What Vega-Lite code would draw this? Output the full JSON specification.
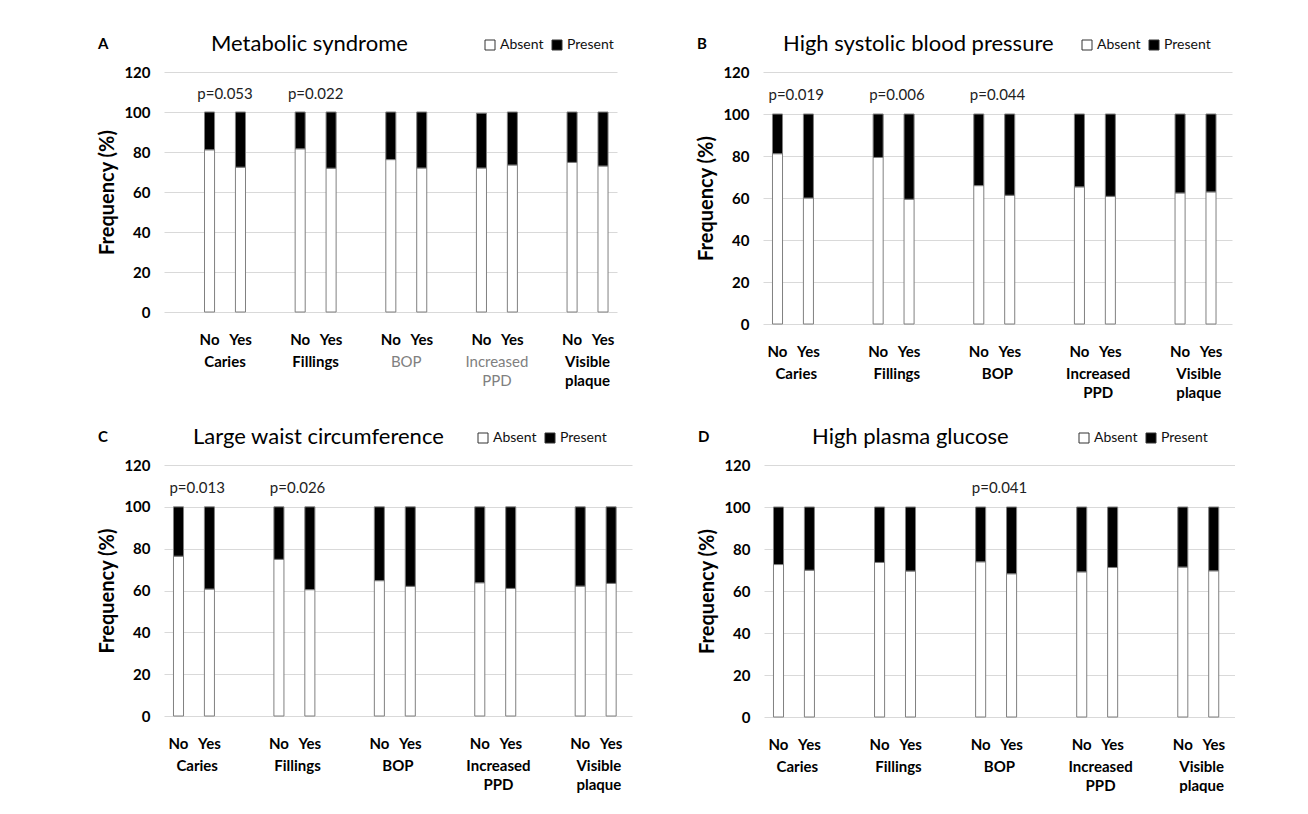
{
  "$schema": "https://vega.github.io/schema/vega-lite/v6.json",
  "padding": {"left": 97, "top": 33, "right": 0, "bottom": 0},
  "background": "#ffffff",
  "datasets": {
    "freq": [
      {"panel": "A", "group": "Caries", "answer": "No", "Absent": 81.1, "Present": 18.9},
      {"panel": "A", "group": "Caries", "answer": "Yes", "Absent": 72.4, "Present": 27.6},
      {"panel": "A", "group": "Fillings", "answer": "No", "Absent": 81.6, "Present": 18.4},
      {"panel": "A", "group": "Fillings", "answer": "Yes", "Absent": 71.9, "Present": 28.1},
      {"panel": "A", "group": "BOP", "answer": "No", "Absent": 76.2, "Present": 23.8},
      {"panel": "A", "group": "BOP", "answer": "Yes", "Absent": 72.0, "Present": 28.0},
      {"panel": "A", "group": "Increased PPD", "answer": "No", "Absent": 72.0, "Present": 27.4},
      {"panel": "A", "group": "Increased PPD", "answer": "Yes", "Absent": 73.5, "Present": 26.5},
      {"panel": "A", "group": "Visible plaque", "answer": "No", "Absent": 74.8, "Present": 25.2},
      {"panel": "A", "group": "Visible plaque", "answer": "Yes", "Absent": 73.0, "Present": 27.0},
      {"panel": "B", "group": "Caries", "answer": "No", "Absent": 81.1, "Present": 18.9},
      {"panel": "B", "group": "Caries", "answer": "Yes", "Absent": 60.0, "Present": 40.0},
      {"panel": "B", "group": "Fillings", "answer": "No", "Absent": 79.3, "Present": 20.7},
      {"panel": "B", "group": "Fillings", "answer": "Yes", "Absent": 59.4, "Present": 40.6},
      {"panel": "B", "group": "BOP", "answer": "No", "Absent": 65.9, "Present": 34.1},
      {"panel": "B", "group": "BOP", "answer": "Yes", "Absent": 61.3, "Present": 38.7},
      {"panel": "B", "group": "Increased PPD", "answer": "No", "Absent": 65.3, "Present": 34.7},
      {"panel": "B", "group": "Increased PPD", "answer": "Yes", "Absent": 60.8, "Present": 39.2},
      {"panel": "B", "group": "Visible plaque", "answer": "No", "Absent": 62.4, "Present": 37.6},
      {"panel": "B", "group": "Visible plaque", "answer": "Yes", "Absent": 62.9, "Present": 37.1},
      {"panel": "C", "group": "Caries", "answer": "No", "Absent": 76.4, "Present": 23.6},
      {"panel": "C", "group": "Caries", "answer": "Yes", "Absent": 60.7, "Present": 39.3},
      {"panel": "C", "group": "Fillings", "answer": "No", "Absent": 74.9, "Present": 25.1},
      {"panel": "C", "group": "Fillings", "answer": "Yes", "Absent": 60.4, "Present": 39.6},
      {"panel": "C", "group": "BOP", "answer": "No", "Absent": 64.7, "Present": 35.3},
      {"panel": "C", "group": "BOP", "answer": "Yes", "Absent": 62.0, "Present": 38.0},
      {"panel": "C", "group": "Increased PPD", "answer": "No", "Absent": 63.7, "Present": 36.3},
      {"panel": "C", "group": "Increased PPD", "answer": "Yes", "Absent": 61.0, "Present": 39.0},
      {"panel": "C", "group": "Visible plaque", "answer": "No", "Absent": 62.1, "Present": 37.9},
      {"panel": "C", "group": "Visible plaque", "answer": "Yes", "Absent": 63.4, "Present": 36.6},
      {"panel": "D", "group": "Caries", "answer": "No", "Absent": 72.6, "Present": 27.4},
      {"panel": "D", "group": "Caries", "answer": "Yes", "Absent": 69.9, "Present": 30.1},
      {"panel": "D", "group": "Fillings", "answer": "No", "Absent": 73.6, "Present": 26.4},
      {"panel": "D", "group": "Fillings", "answer": "Yes", "Absent": 69.5, "Present": 30.5},
      {"panel": "D", "group": "BOP", "answer": "No", "Absent": 73.9, "Present": 26.1},
      {"panel": "D", "group": "BOP", "answer": "Yes", "Absent": 68.2, "Present": 31.8},
      {"panel": "D", "group": "Increased PPD", "answer": "No", "Absent": 69.1, "Present": 30.9},
      {"panel": "D", "group": "Increased PPD", "answer": "Yes", "Absent": 71.2, "Present": 28.8},
      {"panel": "D", "group": "Visible plaque", "answer": "No", "Absent": 71.4, "Present": 28.6},
      {"panel": "D", "group": "Visible plaque", "answer": "Yes", "Absent": 69.6, "Present": 30.4}
    ],
    "pvals": [
      {"panel": "A", "group": "Caries", "p": "p=0.053"},
      {"panel": "A", "group": "Fillings", "p": "p=0.022"},
      {"panel": "B", "group": "Caries", "p": "p=0.019"},
      {"panel": "B", "group": "Fillings", "p": "p=0.006"},
      {"panel": "B", "group": "BOP", "p": "p=0.044"},
      {"panel": "C", "group": "Caries", "p": "p=0.013"},
      {"panel": "C", "group": "Fillings", "p": "p=0.026"},
      {"panel": "D", "group": "BOP", "p": "p=0.041"}
    ]
  },
  "config": {
    "font": "Lato",
    "view": {"stroke": null},
    "axis": {"labelFont": "Lato", "labelFontWeight": "bold", "labelFontSize": 15, "labelColor": "#000000", "titleFont": "Lato", "titleFontSize": 20, "titleFontWeight": "bold", "titleColor": "#000000"},
    "axisY": {"grid": true, "gridColor": "#d9d9d9", "domain": false, "ticks": false, "values": [0, 20, 40, 60, 80, 100, 120], "labelPadding": 14, "titlePadding": 6},
    "axisX": {"grid": false, "domain": false, "ticks": false, "title": null, "labelAngle": 0, "labelPadding": 42, "labelLineHeight": 19, "labelBaseline": "top", "labelFontSize": 15},
    "legend": {"orient": "none", "direction": "horizontal", "title": null, "symbolType": "square", "symbolSize": 100, "symbolStrokeColor": "#333333", "symbolStrokeWidth": 1, "labelFont": "Lato", "labelFontSize": 14, "labelColor": "#111111", "columnPadding": 6, "labelOffset": 3, "legendY": -34}
  },
  "resolve": {"scale": {"color": "independent"}, "legend": {"color": "independent"}},
  "spacing": 26,
  "vconcat": [
    {
      "resolve": {"scale": {"color": "independent"}, "legend": {"color": "independent"}},
      "spacing": 79,
      "hconcat": [
        {
          "title": {"text": "A", "anchor": "start", "fontSize": 15, "fontWeight": "bold", "offset": -19, "color": "#000000"},
          "resolve": {"scale": {"color": "independent"}, "legend": {"color": "independent"}},
          "vconcat": [
            {
              "title": {"text": "Metabolic syndrome", "anchor": "start", "frame": "group", "dx": 47, "fontSize": 22, "fontWeight": "normal", "offset": -18, "color": "#000000"},
              "width": 453,
              "height": 240,
              "layer": [
                {
                  "data": {"name": "freq"},
                  "transform": [{"filter": "datum.panel == 'A'"}, {"fold": ["Absent", "Present"], "as": ["status", "value"]}],
                  "mark": {"type": "bar", "stroke": "#808080", "strokeWidth": 1},
                  "encoding": {
                    "x": {"field": "group", "type": "nominal", "scale": {"domain": ["Caries", "Fillings", "BOP", "Increased PPD", "Visible plaque"], "paddingInner": 0.35, "paddingOuter": 0.174, "align": 1},
                      "axis": {"labelExpr": "datum.value == 'Increased PPD' ? ['Increased', 'PPD'] : datum.value == 'Visible plaque' ? ['Visible', 'plaque'] : datum.label",
                        "labelColor": {"condition": {"test": "datum.value == 'BOP' || datum.value == 'Increased PPD'", "value": "#808080"}, "value": "#000000"},
                        "labelFontWeight": {"condition": {"test": "datum.value == 'BOP' || datum.value == 'Increased PPD'", "value": "normal"}, "value": "bold"}}},
                    "xOffset": {"field": "answer", "type": "nominal", "scale": {"domain": ["No", "Yes"], "paddingInner": 0.675, "paddingOuter": 0.29}},
                    "y": {"field": "value", "type": "quantitative", "stack": "zero", "scale": {"domain": [0, 120]}, "title": "Frequency (%)"},
                    "color": {"field": "status", "type": "nominal", "scale": {"domain": ["Absent", "Present"], "range": ["#ffffff", "#000000"]}, "legend": {"legendX": 319}},
                    "order": {"field": "status", "sort": "ascending"}
                  }
                },
                {
                  "data": {"name": "freq"},
                  "transform": [{"filter": "datum.panel == 'A'"}],
                  "mark": {"type": "text", "baseline": "top", "dy": 21, "fontSize": 15, "fontWeight": "bold", "color": "#000000"},
                  "encoding": {
                    "x": {"field": "group", "type": "nominal"},
                    "xOffset": {"field": "answer", "type": "nominal"},
                    "y": {"datum": 0},
                    "text": {"field": "answer"}
                  }
                },
                {
                  "data": {"name": "pvals"},
                  "transform": [{"filter": "datum.panel == 'A'"}],
                  "mark": {"type": "text", "baseline": "middle", "fontSize": 15, "color": "#222222"},
                  "encoding": {
                    "x": {"field": "group", "type": "nominal"},
                    "y": {"datum": 109},
                    "text": {"field": "p"}
                  }
                }
              ]
            }
          ]
        },
        {
          "title": {"text": "B", "anchor": "start", "fontSize": 15, "fontWeight": "bold", "offset": -19, "color": "#000000"},
          "resolve": {"scale": {"color": "independent"}, "legend": {"color": "independent"}},
          "vconcat": [
            {
              "title": {"text": "High systolic blood pressure", "anchor": "start", "frame": "group", "dx": 20, "fontSize": 22, "fontWeight": "normal", "offset": -18, "color": "#000000"},
              "width": 469,
              "height": 252,
              "layer": [
                {
                  "data": {"name": "freq"},
                  "transform": [{"filter": "datum.panel == 'B'"}, {"fold": ["Absent", "Present"], "as": ["status", "value"]}],
                  "mark": {"type": "bar", "stroke": "#808080", "strokeWidth": 1},
                  "encoding": {
                    "x": {"field": "group", "type": "nominal", "scale": {"domain": ["Caries", "Fillings", "BOP", "Increased PPD", "Visible plaque"], "paddingInner": 0.35, "paddingOuter": 0.005},
                      "axis": {"labelExpr": "datum.value == 'Increased PPD' ? ['Increased', 'PPD'] : datum.value == 'Visible plaque' ? ['Visible', 'plaque'] : datum.label"}},
                    "xOffset": {"field": "answer", "type": "nominal", "scale": {"domain": ["No", "Yes"], "paddingInner": 0.687, "paddingOuter": 0.32}},
                    "y": {"field": "value", "type": "quantitative", "stack": "zero", "scale": {"domain": [0, 120]}, "title": "Frequency (%)"},
                    "color": {"field": "status", "type": "nominal", "scale": {"domain": ["Absent", "Present"], "range": ["#ffffff", "#000000"]}, "legend": {"legendX": 317}},
                    "order": {"field": "status", "sort": "ascending"}
                  }
                },
                {
                  "data": {"name": "freq"},
                  "transform": [{"filter": "datum.panel == 'B'"}],
                  "mark": {"type": "text", "baseline": "top", "dy": 21, "fontSize": 15, "fontWeight": "bold", "color": "#000000"},
                  "encoding": {
                    "x": {"field": "group", "type": "nominal"},
                    "xOffset": {"field": "answer", "type": "nominal"},
                    "y": {"datum": 0},
                    "text": {"field": "answer"}
                  }
                },
                {
                  "data": {"name": "pvals"},
                  "transform": [{"filter": "datum.panel == 'B'"}],
                  "mark": {"type": "text", "baseline": "middle", "fontSize": 15, "color": "#222222"},
                  "encoding": {
                    "x": {"field": "group", "type": "nominal"},
                    "y": {"datum": 109},
                    "text": {"field": "p"}
                  }
                }
              ]
            }
          ]
        }
      ]
    },
    {
      "resolve": {"scale": {"color": "independent"}, "legend": {"color": "independent"}},
      "spacing": 65,
      "hconcat": [
        {
          "title": {"text": "C", "anchor": "start", "fontSize": 15, "fontWeight": "bold", "offset": -19, "color": "#000000"},
          "resolve": {"scale": {"color": "independent"}, "legend": {"color": "independent"}},
          "vconcat": [
            {
              "title": {"text": "Large waist circumference", "anchor": "start", "frame": "group", "dx": 29, "fontSize": 22, "fontWeight": "normal", "offset": -18, "color": "#000000"},
              "width": 468,
              "height": 251,
              "layer": [
                {
                  "data": {"name": "freq"},
                  "transform": [{"filter": "datum.panel == 'C'"}, {"fold": ["Absent", "Present"], "as": ["status", "value"]}],
                  "mark": {"type": "bar", "stroke": "#808080", "strokeWidth": 1},
                  "encoding": {
                    "x": {"field": "group", "type": "nominal", "scale": {"domain": ["Caries", "Fillings", "BOP", "Increased PPD", "Visible plaque"], "paddingInner": 0.35, "paddingOuter": 0.005},
                      "axis": {"labelExpr": "datum.value == 'Increased PPD' ? ['Increased', 'PPD'] : datum.value == 'Visible plaque' ? ['Visible', 'plaque'] : datum.label"}},
                    "xOffset": {"field": "answer", "type": "nominal", "scale": {"domain": ["No", "Yes"], "paddingInner": 0.687, "paddingOuter": 0.32}},
                    "y": {"field": "value", "type": "quantitative", "stack": "zero", "scale": {"domain": [0, 120]}, "title": "Frequency (%)"},
                    "color": {"field": "status", "type": "nominal", "scale": {"domain": ["Absent", "Present"], "range": ["#ffffff", "#000000"]}, "legend": {"legendX": 312}},
                    "order": {"field": "status", "sort": "ascending"}
                  }
                },
                {
                  "data": {"name": "freq"},
                  "transform": [{"filter": "datum.panel == 'C'"}],
                  "mark": {"type": "text", "baseline": "top", "dy": 21, "fontSize": 15, "fontWeight": "bold", "color": "#000000"},
                  "encoding": {
                    "x": {"field": "group", "type": "nominal"},
                    "xOffset": {"field": "answer", "type": "nominal"},
                    "y": {"datum": 0},
                    "text": {"field": "answer"}
                  }
                },
                {
                  "data": {"name": "pvals"},
                  "transform": [{"filter": "datum.panel == 'C'"}],
                  "mark": {"type": "text", "baseline": "middle", "fontSize": 15, "color": "#222222"},
                  "encoding": {
                    "x": {"field": "group", "type": "nominal"},
                    "y": {"datum": 109},
                    "text": {"field": "p"}
                  }
                }
              ]
            }
          ]
        },
        {
          "title": {"text": "D", "anchor": "start", "fontSize": 15, "fontWeight": "bold", "offset": -19, "color": "#000000"},
          "resolve": {"scale": {"color": "independent"}, "legend": {"color": "independent"}},
          "vconcat": [
            {
              "title": {"text": "High plasma glucose", "anchor": "start", "frame": "group", "dx": 48, "fontSize": 22, "fontWeight": "normal", "offset": -18, "color": "#000000"},
              "width": 471,
              "height": 252,
              "layer": [
                {
                  "data": {"name": "freq"},
                  "transform": [{"filter": "datum.panel == 'D'"}, {"fold": ["Absent", "Present"], "as": ["status", "value"]}],
                  "mark": {"type": "bar", "stroke": "#808080", "strokeWidth": 1},
                  "encoding": {
                    "x": {"field": "group", "type": "nominal", "scale": {"domain": ["Caries", "Fillings", "BOP", "Increased PPD", "Visible plaque"], "paddingInner": 0.35, "paddingOuter": 0.005},
                      "axis": {"labelExpr": "datum.value == 'Increased PPD' ? ['Increased', 'PPD'] : datum.value == 'Visible plaque' ? ['Visible', 'plaque'] : datum.label"}},
                    "xOffset": {"field": "answer", "type": "nominal", "scale": {"domain": ["No", "Yes"], "paddingInner": 0.687, "paddingOuter": 0.32}},
                    "y": {"field": "value", "type": "quantitative", "stack": "zero", "scale": {"domain": [0, 120]}, "title": "Frequency (%)"},
                    "color": {"field": "status", "type": "nominal", "scale": {"domain": ["Absent", "Present"], "range": ["#ffffff", "#000000"]}, "legend": {"legendX": 313}},
                    "order": {"field": "status", "sort": "ascending"}
                  }
                },
                {
                  "data": {"name": "freq"},
                  "transform": [{"filter": "datum.panel == 'D'"}],
                  "mark": {"type": "text", "baseline": "top", "dy": 21, "fontSize": 15, "fontWeight": "bold", "color": "#000000"},
                  "encoding": {
                    "x": {"field": "group", "type": "nominal"},
                    "xOffset": {"field": "answer", "type": "nominal"},
                    "y": {"datum": 0},
                    "text": {"field": "answer"}
                  }
                },
                {
                  "data": {"name": "pvals"},
                  "transform": [{"filter": "datum.panel == 'D'"}],
                  "mark": {"type": "text", "baseline": "middle", "fontSize": 15, "color": "#222222"},
                  "encoding": {
                    "x": {"field": "group", "type": "nominal"},
                    "y": {"datum": 109},
                    "text": {"field": "p"}
                  }
                }
              ]
            }
          ]
        }
      ]
    }
  ]
}
